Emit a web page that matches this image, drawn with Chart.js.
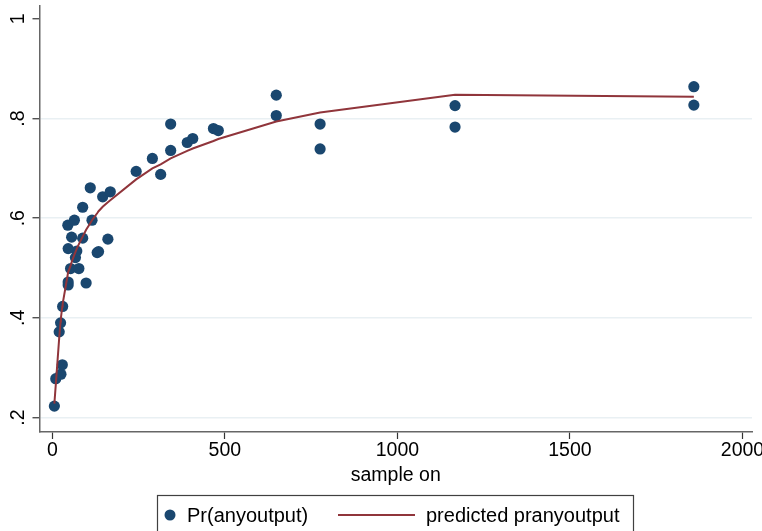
<!DOCTYPE html>
<html>
<head>
<meta charset="utf-8">
<script src="https://cdn.jsdelivr.net/npm/chart.js@4.4.1/dist/chart.umd.min.js"></script>
<style>
  html, body { margin: 0; padding: 0; background: #ffffff; }
  #wrap { width: 762px; height: 531px; }
</style>
</head>
<body>
<div id="wrap"><canvas id="c" width="762" height="531"></canvas></div>
<script>
// ---- data ----
const sampleOn = [6,10,25,29,20,24,30,46,46,98,53,77,67,71,46,130,134,56,88,161,45,64,115,88,146,168,110,243,290,314,343,343,391,407,467,481,649,649,776,776,1167,1167,1859,1859];
const prAnyOutput = [0.223,0.278,0.287,0.306,0.372,0.390,0.423,0.466,0.472,0.470,0.499,0.499,0.521,0.534,0.539,0.531,0.533,0.562,0.560,0.558,0.586,0.596,0.596,0.622,0.643,0.653,0.661,0.694,0.720,0.688,0.736,0.789,0.752,0.760,0.780,0.776,0.847,0.806,0.789,0.739,0.826,0.783,0.864,0.827];
const predX = [6,10,20,24,25,29,30,45,46,53,56,64,67,71,77,88,98,110,115,130,134,146,161,168,243,290,314,343,391,407,467,481,649,776,1167,1859];
const predY = [0.228,0.265,0.36,0.393,0.40,0.423,0.428,0.488,0.492,0.505,0.512,0.527,0.532,0.539,0.548,0.563,0.577,0.590,0.596,0.610,0.614,0.623,0.632,0.636,0.678,0.700,0.708,0.720,0.735,0.740,0.755,0.759,0.794,0.812,0.848,0.844];
const xTicks = [0, 500, 1000, 1500, 2000];
const xTickLabels = ['0', '500', '1000', '1500', '2000'];
const yTicks = [0.2, 0.4, 0.6, 0.8, 1.0];
const yTickLabels = ['.2', '.4', '.6', '.8', '1'];
const xTitle = 'sample on';
const seriesNames = ['Pr(anyoutput)', 'predicted pranyoutput'];

const NAVY = '#1a476f';
const MAROON = '#90353b';
const FONT = "'Liberation Sans', Arial, Helvetica, sans-serif";
const FS = 19.5;
const LFS = 20;

const scatterPts = sampleOn.map((x, i) => ({ x: x, y: prAnyOutput[i] }));
const linePts = predX.map((x, i) => ({ x: x, y: predY[i] }));

const overlay = {
  id: 'overlay',
  beforeDraw(chart) {
    const ctx = chart.ctx;
    ctx.save();
    ctx.fillStyle = '#ffffff';
    ctx.fillRect(0, 0, chart.width, chart.height);
    ctx.restore();
  },
  afterDraw(chart) {
    const ctx = chart.ctx;
    const ys = chart.scales.y;
    ctx.save();
    // rotated y tick labels
    ctx.fillStyle = '#000';
    ctx.font = FS + 'px ' + FONT;
    ctx.textAlign = 'center';
    ctx.textBaseline = 'middle';
    yTicks.forEach((v, i) => {
      const py = ys.getPixelForValue(v);
      ctx.save();
      ctx.translate(19, py);
      ctx.rotate(-Math.PI / 2);
      ctx.fillText(yTickLabels[i], 0, 0);
      ctx.restore();
    });
    // legend box
    const bx = 157.5, by = 495.5, bw = 476, bh = 50;
    ctx.fillStyle = '#ffffff';
    ctx.fillRect(bx, by, bw, bh);
    ctx.strokeStyle = '#404040';
    ctx.lineWidth = 1.2;
    ctx.strokeRect(bx, by, bw, bh);
    const ly = 515;
    ctx.fillStyle = NAVY;
    ctx.beginPath();
    ctx.arc(170, ly, 5.5, 0, Math.PI * 2);
    ctx.fill();
    ctx.fillStyle = '#000';
    ctx.textAlign = 'left';
    ctx.font = LFS + 'px ' + FONT;
    ctx.fillText(seriesNames[0], 187, ly + 1);
    ctx.strokeStyle = MAROON;
    ctx.lineWidth = 2;
    ctx.beginPath();
    ctx.moveTo(338, ly);
    ctx.lineTo(415, ly);
    ctx.stroke();
    ctx.fillText(seriesNames[1], 426, ly + 1);
    ctx.restore();
  }
};

new Chart(document.getElementById('c'), {
  type: 'scatter',
  data: {
    datasets: [
      {
        type: 'line',
        label: seriesNames[1],
        data: linePts,
        borderColor: MAROON,
        borderWidth: 2,
        pointRadius: 0,
        tension: 0,
        fill: false,
        order: 0
      },
      {
        type: 'scatter',
        label: seriesNames[0],
        data: scatterPts,
        backgroundColor: NAVY,
        borderColor: NAVY,
        borderWidth: 0,
        pointRadius: 5.6,
        pointHoverRadius: 5.6,
        order: 1
      }
    ]
  },
  options: {
    responsive: false,
    animation: false,
    devicePixelRatio: 1,
    layout: { padding: { top: 5, right: 10, bottom: 0, left: 0 } },
    plugins: {
      legend: { display: false },
      tooltip: { enabled: false },
      title: { display: false }
    },
    scales: {
      x: {
        type: 'linear',
        min: -37.1,
        max: 2027.5,
        afterBuildTicks: (s) => { s.ticks = xTicks.map(v => ({ value: v })); },
        afterFit: (s) => { s.height = 99; s.paddingLeft = 0; s.paddingRight = 0; },
        ticks: {
          autoSkip: false,
          maxRotation: 0,
          minRotation: 0,
          padding: 0,
          color: '#000',
          font: { family: FONT, size: FS },
          callback: (v) => { const i = xTicks.indexOf(v); return i >= 0 ? xTickLabels[i] : ''; }
        },
        grid: {
          drawOnChartArea: false,
          drawTicks: true,
          tickLength: 7,
          tickColor: '#333333',
          tickWidth: 1.2
        },
        border: { display: true, color: '#666666', width: 1.5 },
        title: {
          display: true,
          text: xTitle,
          color: '#000',
          font: { family: FONT, size: FS },
          padding: { top: 0, bottom: 44 }
        }
      },
      y: {
        type: 'linear',
        min: 0.171,
        max: 1.0267,
        afterBuildTicks: (s) => { s.ticks = yTicks.map(v => ({ value: v })); },
        afterFit: (s) => { s.width = 39.5; s.paddingTop = 0; s.paddingBottom = 0; },
        ticks: { display: false },
        grid: {
          drawOnChartArea: true,
          drawTicks: true,
          tickLength: 7,
          lineWidth: 1.5,
          color: (c) => (c.tick && Math.abs(c.tick.value - 1) < 1e-6) ? 'rgba(0,0,0,0)' : '#e9f0f3',
          tickColor: '#333333',
          tickWidth: 1.2
        },
        border: { display: true, color: '#666666', width: 1.5 }
      }
    }
  },
  plugins: [overlay]
});
</script>
</body>
</html>
